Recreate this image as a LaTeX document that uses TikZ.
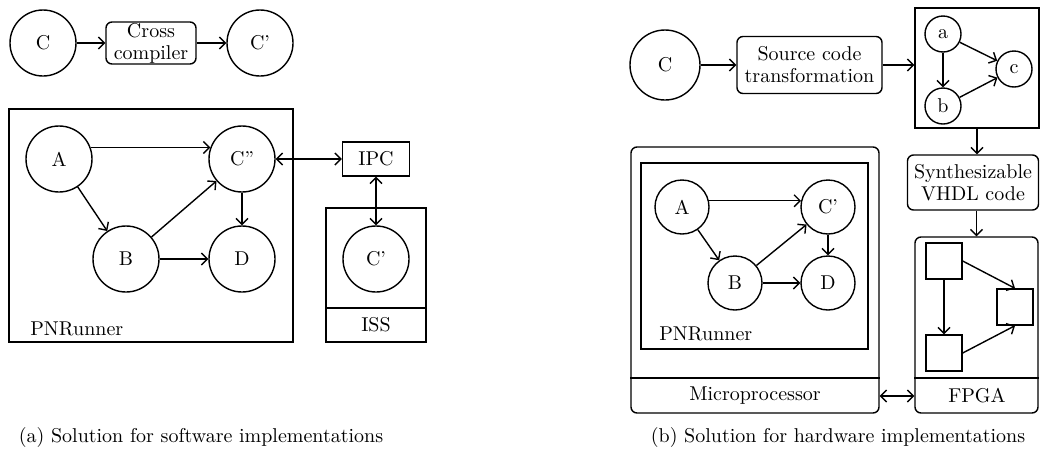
\documentclass[tikz,border=0pt]{standalone}
\usetikzlibrary{arrows.meta,positioning}

\begin{document}
\begin{tikzpicture}[x=0.5pt,y=-0.5pt,line width=0.7pt,>={Straight Barb[length=3pt,width=6pt]},
	place/.style={circle,draw,minimum size=33pt,inner sep=0pt},
	midplace/.style={circle,draw,minimum size=27pt,inner sep=0pt},
	smallplace/.style={circle,draw,minimum size=18pt,inner sep=0pt},
	frame/.style={draw,rectangle,inner sep=0pt},
	blk/.style={draw,rounded corners=3pt,align=center,inner sep=0.5pt,font=\fontsize{10}{11}\selectfont},
	sq/.style={draw,rectangle,minimum size=18pt,inner sep=0pt}]
			\useasboundingbox (0,0) rectangle (1040,456);
			\node[place] (Ca) at (43,43) {C};
			\node[blk,minimum width=45pt,minimum height=21pt] (cross) at (151,43) {Cross\\compiler};
			\node[place] (Cpa) at (260,43) {C'};
			\node[frame,minimum width=142pt,minimum height=116.5pt] (pnra) at (151,225.5) {};
			\node[anchor=base west] (pnralbl) at (23,335) {PNRunner};
			\node[place] (Aa) at (59,159) {A};
			\node[place] (C2a) at (242,159) {C''};
			\node[place] (Ba) at (126,259) {B};
			\node[place] (Da) at (242,259) {D};
			\node[frame,minimum width=33.5pt,minimum height=17pt] (ipc) at (376,159) {IPC};
			\node[frame,minimum width=50pt,minimum height=67pt] (iss) at (376,275) {};
			\node[place] (Cpiss) at (376,259) {C'};
			\node (isslbl) at (376,325) {ISS};
			\draw (iss.west |- 0,308) -- (iss.east |- 0,308);
			\node (capa) at (201,437) {(a) Solution for software implementations};
			\path[->]
				(Ca) edge (cross)
				(cross) edge (Cpa)
				(Aa.20) edge (C2a.160)
				(Aa) edge (Ba)
				(Ba) edge (C2a)
				(C2a) edge (Da)
				(Ba) edge (Da);
			\path[<->]
				(C2a) edge (ipc)
				(ipc) edge (Cpiss);

			\node[place,minimum size=35pt] (Cb) at (665,65) {C};
			\node[blk,minimum width=72.5pt,minimum height=28.5pt] (sct) at (809.5,65) {Source code\\transformation};
			\node[frame,minimum width=62pt,minimum height=60pt] (pn) at (977,68) {};
			\node[smallplace] (na) at (943,34) {a};
			\node[smallplace] (nb) at (943,106) {b};
			\node[smallplace] (nc) at (1014,69) {c};
			\node[blk,minimum width=65.5pt,minimum height=27.5pt] (vhdl) at (973,182.5) {Synthesizable\\VHDL code};
			\node[blk,minimum width=124pt,minimum height=133pt] (mp) at (755,280) {};
			\node[frame,minimum width=113.5pt,minimum height=93pt] (pnrb) at (754.5,256) {};
			\node[anchor=base west] (pnrblbl) at (652,340) {PNRunner};
			\node[midplace] (Ab) at (682,207) {A};
			\node[midplace] (Cpb) at (828,207) {C'};
			\node[midplace] (Bb) at (735,283) {B};
			\node[midplace] (Db) at (828,283) {D};
			\node[blk,minimum width=61.5pt,minimum height=88pt] (fpga) at (976.5,325) {};
			\node[sq] (s1) at (944,261) {};
			\node[sq] (s2) at (1015,307) {};
			\node[sq] (s3) at (944,353) {};
			\node (mplbl) at (755,396) {Microprocessor};
			\node (fpgalbl) at (977,396) {FPGA};
			\draw (mp.west |- 0,378) -- (mp.east |- 0,378);
			\draw (fpga.west |- 0,378) -- (fpga.east |- 0,378);
			\node (capb) at (838,437) {(b) Solution for hardware implementations};
			\path[->]
				(Cb) edge (sct)
				(sct.east) edge (sct.east -| pn.west)
				(na) edge (nb)
				(na) edge (nc)
				(nb) edge (nc)
				(pn.south) edge (pn.south |- vhdl.north)
				(fpga.north |- vhdl.south) edge (fpga.north)
				(Ab.13) edge (Cpb.167)
				(Ab) edge (Bb)
				(Bb) edge (Cpb)
				(Cpb) edge (Db)
				(Bb) edge (Db)
				(s1) edge (s3)
				(s1.east) edge (s2.north)
				(s3.east) edge (s2.south);
			\path[<->]
				(mplbl -| mp.east) edge (fpgalbl -| fpga.west);
		\end{tikzpicture}
\end{document}
